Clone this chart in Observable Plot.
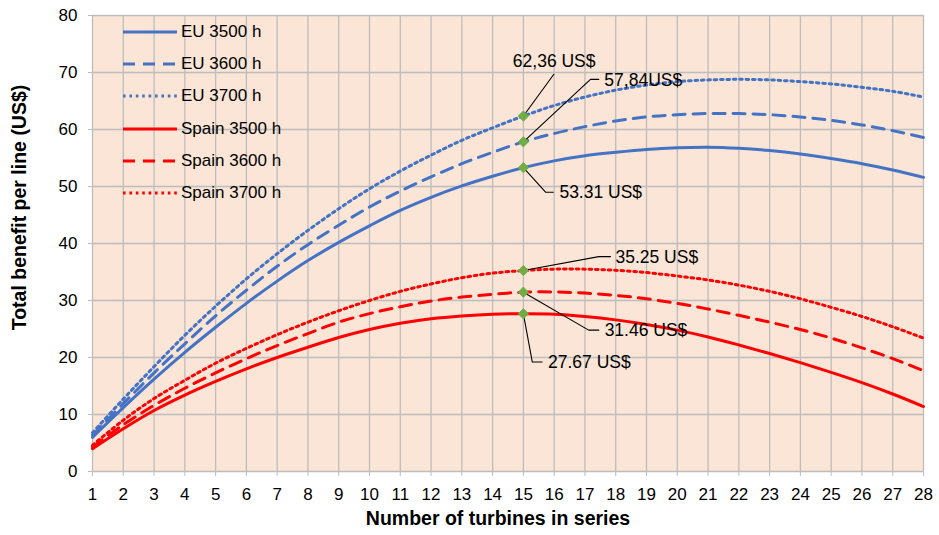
<!DOCTYPE html>
<html><head><meta charset="utf-8">
<script src="https://cdn.jsdelivr.net/npm/d3@7"></script>
<script src="https://cdn.jsdelivr.net/npm/@observablehq/plot@0.6"></script>
<style>
body{margin:0;background:#fff;font-family:"Liberation Sans",Arial,sans-serif;}
#wrap{position:relative;width:939px;height:535px;}
#legend{position:absolute;left:123px;top:16px;}
.row{display:flex;align-items:center;height:32.2px;font-size:17px;color:#000;white-space:nowrap;}
.row svg{width:54px;height:8px;margin-right:4px;display:block;}
</style></head><body>
<div id="wrap"><div id="chart"></div><div id="legend"></div></div>
<script>
// ---- data ----
const turbines = [1,2,3,4,5,6,7,8,9,10,11,12,13,14,15,16,17,18,19,20,21,22,23,24,25,26,27,28];
const eu3500    = [6.0,11.2,16.2,20.9,25.3,29.5,33.4,37.0,40.2,43.1,45.8,48.1,50.1,51.8,53.31,54.5,55.4,56.0,56.5,56.8,56.9,56.7,56.3,55.7,54.9,54.0,52.9,51.6];
const eu3600    = [6.4,11.9,17.3,22.4,27.3,31.8,36.0,39.8,43.2,46.4,49.2,51.7,54.0,56.0,57.84,59.3,60.5,61.5,62.2,62.6,62.8,62.8,62.6,62.2,61.6,60.8,59.8,58.6];
const eu3700    = [6.8,12.7,18.4,23.9,29.0,33.8,38.2,42.3,46.1,49.6,52.7,55.5,58.1,60.3,62.36,64.2,65.7,66.9,67.8,68.4,68.7,68.8,68.7,68.4,68.0,67.4,66.7,65.7];
const spain3500 = [4.0,7.5,10.7,13.4,15.8,18.0,20.0,21.8,23.5,24.9,26.0,26.8,27.3,27.6,27.67,27.6,27.2,26.6,25.8,24.8,23.6,22.2,20.7,19.1,17.4,15.6,13.6,11.4];
const spain3600 = [4.3,8.2,11.6,14.6,17.3,19.8,22.1,24.2,26.2,27.7,28.9,29.9,30.6,31.1,31.46,31.5,31.3,30.9,30.3,29.5,28.5,27.4,26.2,24.9,23.4,21.7,19.8,17.7];
const spain3700 = [4.6,9.0,12.8,16.0,19.0,21.6,24.0,26.2,28.2,30.0,31.6,32.9,34.0,34.8,35.25,35.5,35.5,35.3,34.9,34.3,33.6,32.7,31.6,30.3,28.8,27.2,25.4,23.4];

const seriesNames  = ["EU 3500 h","EU 3600 h","EU 3700 h","Spain 3500 h","Spain 3600 h","Spain 3700 h"];
const seriesValues = [eu3500, eu3600, eu3700, spain3500, spain3600, spain3700];
const seriesColors = ["#4472C4","#4472C4","#4472C4","#FF0000","#FF0000","#FF0000"];
const seriesDash   = ["none","12,8","2.6,3.8","none","12,8","2.6,3.8"];

const yTicks = [0,10,20,30,40,50,60,70,80];

// annotations (data coordinates)
const annLabels = ["62,36 US$","57,84US$","53.31 US$","35.25 US$","31.46 US$","27.67 US$"];
const annX      = [15,15,15,15,15,15];
const annY      = [62.36,57.84,53.31,35.25,31.46,27.67];
const elbowX    = [15.99,17.18,15.72,17.45,17.12,15.29];
const elbowY    = [69.7,68.8,49.0,37.7,24.8,19.2];
const endX      = [15.99,17.45,15.97,17.83,17.45,15.61];
const textX     = [16.0,17.63,16.17,17.99,17.64,15.8];
const textY     = [72.0,68.7,48.9,37.6,24.7,19.1];
const textAnchor= ["middle","start","start","start","start","start"];

// ---- build tables ----
const rows = [];
seriesNames.forEach((name, s) => turbines.forEach((t, i) => rows.push({name, s, x: t, y: seriesValues[s][i]})));
const leaders = [];
annLabels.forEach((lab, i) => {
  leaders.push({id: i, x: annX[i], y: annY[i]});
  leaders.push({id: i, x: elbowX[i], y: elbowY[i]});
  leaders.push({id: i, x: endX[i], y: elbowY[i]});
});
const anns = annLabels.map((lab, i) => ({lab, x: annX[i], y: annY[i], tx: textX[i], ty: textY[i], a: textAnchor[i]}));

const lineMarks = seriesNames.map((name, s) =>
  Plot.line(rows.filter(r => r.s === s), {
    x: "x", y: "y", stroke: seriesColors[s], strokeWidth: 3,
    strokeDasharray: seriesDash[s] === "none" ? undefined : seriesDash[s],
    curve: "catmull-rom"
  })
);

const chart = Plot.plot({
  width: 939, height: 535,
  marginLeft: 92, marginRight: 16, marginTop: 15, marginBottom: 64,
  style: {fontFamily: "'Liberation Sans', Arial, sans-serif", fontSize: "17px", background: "white", color: "black", overflow: "visible"},
  x: {domain: [1, 28], ticks: turbines, label: null},
  y: {domain: [0, 80], ticks: yTicks, label: null},
  marks: [
    Plot.frame({fill: "#FBE5D6", stroke: "none"}),
    Plot.gridX(turbines, {stroke: "#BDBDBD", strokeOpacity: 1, strokeWidth: 1.3}),
    Plot.gridY(yTicks, {stroke: "#BDBDBD", strokeOpacity: 1, strokeWidth: 1.3}),
    Plot.axisX(turbines, {tickSize: 5, tickPadding: 11, stroke: "#BDBDBD", fill: "black", fontSize: 17, label: null}),
    Plot.axisY(yTicks, {tickSize: 4, tickPadding: 11, stroke: "#BDBDBD", fill: "black", fontSize: 17, label: null}),
    ...lineMarks,
    Plot.line(leaders, {x: "x", y: "y", z: "id", stroke: "black", strokeWidth: 1.1, curve: "linear"}),
    Plot.dot(anns, {x: "x", y: "y", symbol: "diamond2", r: 4.6, fill: "#70AD47", stroke: "#70AD47", strokeWidth: 1}),
    Plot.text(anns.filter(d => d.a === "middle"), {x: "tx", y: "ty", text: "lab", textAnchor: "middle", fontSize: 17.5, fill: "black"}),
    Plot.text(anns.filter(d => d.a === "start"), {x: "tx", y: "ty", text: "lab", textAnchor: "start", fontSize: 17.5, fill: "black"}),
    Plot.text(["Total benefit per line (US$)"], {frameAnchor: "left", textAnchor: "middle", rotate: -90, dx: -73, dy: -36, fontSize: 19.5, fontWeight: "bold", fill: "black"}),
    Plot.text(["Number of turbines in series"], {frameAnchor: "bottom", textAnchor: "middle", dx: -10, dy: 53, fontSize: 19.5, fontWeight: "bold", fill: "black"})
  ]
});
document.getElementById("chart").appendChild(chart);

// ---- legend (overlay inside plot area) ----
const legend = document.getElementById("legend");
seriesNames.forEach((name, s) => {
  const row = document.createElement("div");
  row.className = "row";
  const dash = seriesDash[s] === "none" ? "" : `stroke-dasharray="${seriesDash[s]}"`;
  row.innerHTML = `<svg viewBox="0 0 54 8"><line x1="0" y1="4" x2="54" y2="4" stroke="${seriesColors[s]}" stroke-width="3" ${dash}/></svg><span>${name}</span>`;
  legend.appendChild(row);
});
</script>
</body></html>
